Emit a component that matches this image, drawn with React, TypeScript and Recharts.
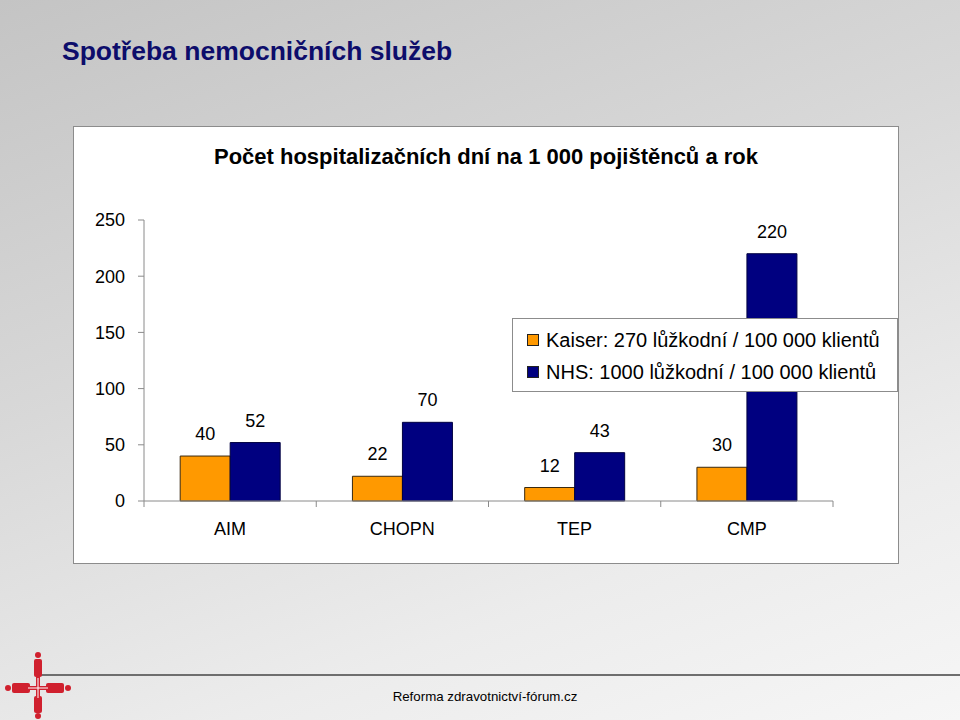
import React from 'react';
import { BarChart, Bar, XAxis, YAxis, LabelList, Legend } from 'recharts';

// data
const categories = ['AIM', 'CHOPN', 'TEP', 'CMP'];
const kaiserValues = [40, 22, 12, 30];
const nhsValues = [52, 70, 43, 220];
const yTicks = [0, 50, 100, 150, 200, 250];

const kaiserName = 'Kaiser: 270 lůžkodní / 100 000 klientů';
const nhsName = 'NHS: 1000 lůžkodní / 100 000 klientů';

const data = categories.map((cat, i) => ({
  cat,
  kaiser: kaiserValues[i],
  nhs: nhsValues[i],
}));

const FONT = "'Liberation Sans', Arial, Helvetica, sans-serif";
const AXIS_GREY = '#8a8a8a';
const TICK_SIZE = 6;
const TICK_MARGIN = 15;

const CategoryTick = (props: any) => {
  const { x, y, payload, index } = props;
  const half = payload && payload.offset != null ? payload.offset : 86;
  const axisY = y - TICK_SIZE - TICK_MARGIN;
  const isLast = index === categories.length - 1;
  return (
    <g>
      <line x1={x - half} x2={x - half} y1={axisY} y2={axisY + TICK_SIZE} stroke={AXIS_GREY} />
      {isLast && (
        <line x1={x + half} x2={x + half} y1={axisY} y2={axisY + TICK_SIZE} stroke={AXIS_GREY} />
      )}
      <text x={x} y={y} dy="0.71em" textAnchor="middle" fontSize={18} fill="#000" fontFamily={FONT}>
        {payload.value}
      </text>
    </g>
  );
};

const LegendBox = (props: any) => {
  const { payload } = props;
  return (
    <div style={{ paddingTop: 5, paddingLeft: 14 }}>
      {(payload || []).map((entry: any) => (
        <div
          key={entry.value}
          style={{ display: 'flex', alignItems: 'center', height: 32, fontSize: 20, fontFamily: FONT, color: '#000', whiteSpace: 'nowrap' }}
        >
          <span
            style={{
              display: 'inline-block',
              width: 10,
              height: 10,
              background: entry.color,
              border: '1px solid #222',
              marginRight: 7,
            }}
          />
          {entry.value}
        </div>
      ))}
    </div>
  );
};

const Logo = () => (
  <svg width={80} height={72} style={{ position: 'absolute', left: 0, top: 648 }}>
    <g fill="#d0202e">
      {/* vertical figures */}
      <circle cx={38} cy={7} r={3} />
      <rect x={34} y={11} width={8} height={18} rx={2} />
      <rect x={36} y={29} width={4} height={30} />
      <rect x={34} y={48} width={8} height={17} rx={2} />
      <circle cx={38} cy={68} r={3} />
      {/* horizontal figures */}
      <circle cx={8} cy={40} r={3} />
      <rect x={12} y={35} width={18} height={10} rx={2} />
      <rect x={28} y={38} width={22} height={4} />
      <rect x={46} y={35} width={18} height={10} rx={2} />
      <circle cx={68} cy={40} r={3} />
    </g>
    <line x1={38} x2={38} y1={30} y2={50} stroke="#fff" strokeWidth={1} />
    <line x1={28} x2={48} y1={40} y2={40} stroke="#fff" strokeWidth={1} />
  </svg>
);

export default function App() {
  return (
    <div
      style={{
        position: 'absolute',
        left: 0,
        top: 0,
        width: 960,
        height: 720,
        overflow: 'hidden',
        fontFamily: FONT,
        background: 'linear-gradient(160deg, #c4c4c4 0%, #d8d8d8 40%, #ececec 75%, #f6f6f6 100%)',
      }}
    >
      <div
        style={{
          position: 'absolute',
          left: 62,
          top: 36,
          fontSize: 26.5,
          lineHeight: '30px',
          fontWeight: 'bold',
          color: '#0d0d6b',
          whiteSpace: 'nowrap',
        }}
      >
        Spotřeba nemocničních služeb
      </div>

      <div
        style={{
          position: 'absolute',
          left: 74,
          top: 127,
          width: 824,
          height: 436,
          background: '#fff',
          boxShadow: '0 0 0 1px #8c8c8c',
        }}
      >
        <div
          style={{
            position: 'absolute',
            left: 0,
            top: 17,
            width: 824,
            textAlign: 'center',
            fontSize: 22,
            lineHeight: '26px',
            fontWeight: 'bold',
            color: '#000',
            whiteSpace: 'nowrap',
          }}
        >
          Počet hospitalizačních dní na 1 000 pojištěnců a rok
        </div>

        <BarChart
          width={824}
          height={436}
          data={data}
          margin={{ top: 93, right: 65, left: 0, bottom: 0 }}
          barCategoryGap="21%"
          barGap={0}
          style={{ fontFamily: FONT }}
        >
          <XAxis
            dataKey="cat"
            height={62}
            stroke={AXIS_GREY}
            tickLine={false}
            tickSize={TICK_SIZE}
            tickMargin={TICK_MARGIN}
            tick={<CategoryTick />}
            interval={0}
          />
          <YAxis
            type="number"
            domain={[0, 250]}
            ticks={yTicks}
            width={70}
            stroke={AXIS_GREY}
            tickSize={TICK_SIZE}
            tickMargin={13}
            tick={{ fill: '#000', fontSize: 18, fontFamily: FONT }}
            interval={0}
          />
          <Legend
            layout="vertical"
            align="center"
            verticalAlign="middle"
            content={<LegendBox />}
            wrapperStyle={{
              left: 438,
              top: 191,
              width: 386,
              height: 74,
              background: '#fff',
              border: '1px solid #8c8c8c',
              boxSizing: 'border-box',
            }}
          />
          <Bar dataKey="kaiser" name={kaiserName} fill="#ff9900" stroke="#3a2a10" strokeWidth={1} isAnimationActive={false}>
            <LabelList dataKey="kaiser" position="top" offset={16} fill="#000" fontSize={18} fontFamily={FONT} />
          </Bar>
          <Bar dataKey="nhs" name={nhsName} fill="#000080" stroke="#000040" strokeWidth={1} isAnimationActive={false}>
            <LabelList dataKey="nhs" position="top" offset={16} fill="#000" fontSize={18} fontFamily={FONT} />
          </Bar>
        </BarChart>
      </div>

      <div
        style={{
          position: 'absolute',
          left: 40,
          top: 674,
          width: 920,
          height: 2,
          background: '#6e6e6e',
        }}
      />
      <div
        style={{
          position: 'absolute',
          left: 0,
          top: 689,
          width: 960,
          textAlign: 'center',
          paddingLeft: 10,
          boxSizing: 'border-box',
          fontSize: 13.3,
          lineHeight: '16px',
          fontFamily: "'Liberation Sans Narrow', 'Arial Narrow', 'Liberation Sans', sans-serif",
          color: '#000',
          whiteSpace: 'nowrap',
        }}
      >
        Reforma zdravotnictví-fórum.cz
      </div>
      <Logo />
    </div>
  );
}
